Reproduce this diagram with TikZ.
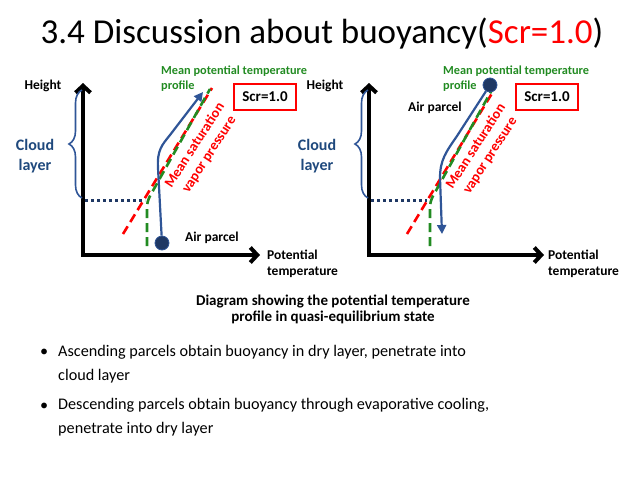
\documentclass[tikz,border=0pt]{standalone}
\usepackage{fontspec}
\setmainfont{Carlito}
\usetikzlibrary{arrows.meta,decorations.pathreplacing}
\definecolor{navy}{HTML}{1F3864}
\definecolor{parcelblue}{HTML}{2F5597}
\definecolor{cloudblue}{HTML}{1F497D}
\definecolor{dkgreen}{HTML}{228B22}
\begin{document}
\begin{tikzpicture}[x=1pt,y=-1pt,
  axis/.style={line width=4pt, black, line join=miter, {Straight Barb[length=7pt,width=15pt]}-{Straight Barb[length=7pt,width=15pt]}},
  reddash/.style={red, line width=2.6pt, dash pattern=on 9pt off 5pt},
  greendash/.style={dkgreen, line width=2.6pt, dash pattern=on 9pt off 5pt},
  dotline/.style={navy, line width=3pt, dash pattern=on 3pt off 3pt},
  parcelline/.style={parcelblue, line width=2.2pt, -{Triangle[length=9pt,width=9pt]}},
  parcel/.style={circle, fill=navy, draw=parcelblue, line width=0.8pt, minimum size=14pt, inner sep=0pt},
  cloudbrace/.style={parcelblue, line width=1.6pt, decorate, decoration={brace, amplitude=13pt}},
  lbl/.style={font=\fontsize{13.5}{16}\selectfont\bfseries, black},
  cloudlbl/.style={font=\fontsize{16}{20}\selectfont\bfseries, cloudblue, align=center},
  greenlbl/.style={font=\fontsize{12.3}{15}\selectfont\bfseries, dkgreen, align=left, anchor=north west, inner sep=0pt},
  redlbl/.style={font=\fontsize{14.2}{17}\selectfont\bfseries, red, align=center, rotate=57},
  scrbox/.style={draw=red, line width=2.4pt, minimum width=62pt, minimum height=26pt, inner sep=0pt, font=\fontsize{15}{18}\selectfont\bfseries},
  bodytext/.style={font=\fontsize{16.2}{24}\selectfont, anchor=base west, align=left, inner sep=0pt}
]
\useasboundingbox (0,0) rectangle (640,480);

% title
\node[font=\fontsize{35}{42}\selectfont] (title) at (322,34) {3.4 Discussion about buoyancy(\textcolor{red}{Scr=1.0})};

% ---------- left diagram ----------
\coordinate (Lo) at (83,255);
\coordinate (Ly) at (83,83);
\coordinate (Lx) at (260,255);
\draw[axis] (Ly) -- (Lo) -- (Lx);
\node[lbl] (Lh) at (43,86) {Height};
\node[lbl, anchor=north west, align=left, inner sep=0pt] (Lpt) at (267,250) {Potential\\temperature};
\draw[cloudbrace] (82,198) -- (82,90);
\node[cloudlbl] (Lcl) at (35,156) {Cloud\\layer};
\coordinate (Ld1) at (85,200);
\coordinate (Ld2) at (145,200);
\draw[dotline] (Ld1) -- (Ld2);
\coordinate (Lr1) at (123,234);
\coordinate (Lr2) at (212,88);
\draw[reddash] (Lr1) -- (Lr2);
\coordinate (Lg1) at (147,246);
\coordinate (Lg2) at (210,89);
\draw[greendash] (Lg1) -- (147,208) .. controls (147,203) and (148,200) .. (150,196) -- (Lg2);
\node[parcel] (Lp) at (162,243) {};
\coordinate (Lt) at (203,92);
\draw[parcelline] (Lp) -- (158,168) .. controls (157,150) and (162,145) .. (170,135) -- (Lt);
\node[lbl] (Lap) at (212,238) {Air parcel};
\node[greenlbl] (Lmp) at (161,66) {Mean potential temperature\\profile};
\node[redlbl] (Lsat) at (202,150) {Mean saturation\\vapor pressure};
\node[scrbox] (Lscr) at (265,97) {Scr=1.0};

% ---------- right diagram ----------
\coordinate (Ro) at (369,255);
\coordinate (Ry) at (369,83);
\coordinate (Rx) at (544,255);
\draw[axis] (Ry) -- (Ro) -- (Rx);
\node[lbl] (Rh) at (325,86) {Height};
\node[lbl, anchor=north west, align=left, inner sep=0pt] (Rpt) at (548,250) {Potential\\temperature};
\draw[cloudbrace] (368,198) -- (368,90);
\node[cloudlbl] (Rcl) at (317,156) {Cloud\\layer};
\coordinate (Rd1) at (371,200);
\coordinate (Rd2) at (427,200);
\draw[dotline] (Rd1) -- (Rd2);
\coordinate (Rr1) at (407,234);
\coordinate (Rr2) at (494,90);
\draw[reddash] (Rr1) -- (Rr2);
\coordinate (Rg1) at (430,246);
\coordinate (Rg2) at (493,88);
\draw[greendash] (Rg1) -- (430,208) .. controls (430,203) and (431,200) .. (433,196) -- (Rg2);
\node[parcel] (Rp) at (490,85) {};
\coordinate (Rt) at (442,234);
\draw[parcelline] (Rp) -- (457,136) .. controls (446,152) and (440,160) .. (440,178) -- (Rt);
\node[lbl] (Rap) at (435,108) {Air parcel};
\node[greenlbl] (Rmp) at (443,66) {Mean potential temperature\\profile};
\node[redlbl] (Rsat) at (483,151) {Mean saturation\\vapor pressure};
\node[scrbox] (Rscr) at (547,97) {Scr=1.0};

% caption
\node[font=\fontsize{15}{16}\selectfont\bfseries, align=center] (cap) at (333,309) {Diagram showing the potential temperature\\profile in quasi-equilibrium state};

% bullets
\node[bodytext] (b1) at (40,356) {\textbullet};
\node[bodytext] (t1) at (58,380) {Ascending parcels obtain buoyancy in dry layer, penetrate into\\cloud layer};
\node[bodytext] (b2) at (40,410) {\textbullet};
\node[bodytext] (t2) at (58,433) {Descending parcels obtain buoyancy through evaporative cooling,\\penetrate into dry layer};
\end{tikzpicture}
\end{document}
